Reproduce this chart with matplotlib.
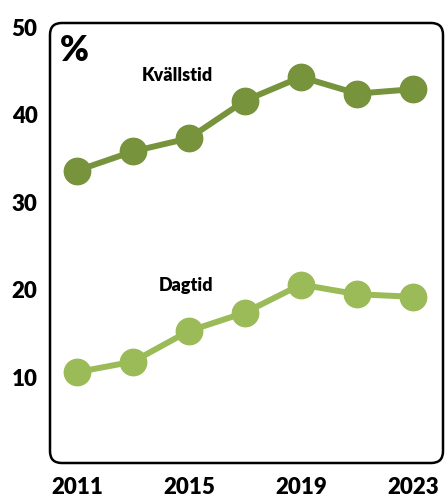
import matplotlib.pyplot as plt
from matplotlib.patches import FancyBboxPatch

years = [2011, 2013, 2015, 2017, 2019, 2021, 2023]
kvallstid = [33.6, 35.8, 37.3, 41.6, 44.3, 42.4, 42.9]
dagtid = [10.6, 11.8, 15.3, 17.4, 20.6, 19.5, 19.2]
x_ticks = [2011, 2015, 2019, 2023]
y_ticks = [10, 20, 30, 40, 50]

dark_green = "#77933C"
light_green = "#9BBB59"

plt.rcParams['font.family'] = ['Lato', 'DejaVu Sans']

fig = plt.figure(figsize=(4.48, 5.0), dpi=100)
ax = fig.add_axes([50 / 448, 37 / 500, 393 / 448, 440 / 500])

ax.plot(years, kvallstid, color=dark_green, lw=4.3, marker="o", ms=19, zorder=3)
ax.plot(years, dagtid, color=light_green, lw=4.3, marker="o", ms=19, zorder=3)

ax.set_xlim(2010.04, 2024.07)
ax.set_ylim(0.23, 50.46)
ax.set_xticks(x_ticks)
ax.set_yticks(y_ticks)
ax.tick_params(length=0, labelsize=16)
for lab in ax.get_xticklabels() + ax.get_yticklabels():
    lab.set_fontweight("heavy")
ax.tick_params(axis="x", pad=10)
ax.tick_params(axis="y", pad=9)

for s in ax.spines.values():
    s.set_visible(False)

# rounded frame
box = FancyBboxPatch((0, 0), 1, 1, boxstyle="round,pad=0,rounding_size=0.03",
                     transform=ax.transAxes, fill=False, ec="black", lw=1.8,
                     clip_on=False, zorder=5, mutation_aspect=393 / 440)
ax.add_patch(box)

ax.text(0.025, 0.975, "%", transform=ax.transAxes, fontsize=25, fontweight="heavy",
        va="top", ha="left")
ax.text(2014.6, 44.5, "Kvällstid", fontsize=13, fontweight="heavy", ha="center", va="center")
ax.text(2014.9, 20.5, "Dagtid", fontsize=13, fontweight="heavy", ha="center", va="center")

fig.savefig("out.png", dpi=100)
